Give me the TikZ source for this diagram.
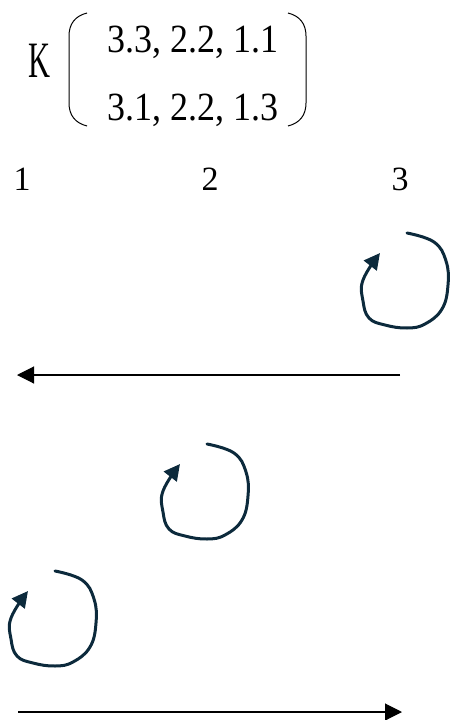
\documentclass[tikz,border=0pt]{standalone}
\usepackage{fontspec}
\setmainfont{Liberation Serif}
\usetikzlibrary{arrows.meta}
\definecolor{loopcol}{HTML}{0C2A3C}
\newcommand\fitw[2]{\setbox0\hbox{#2}\pgfmathsetmacro\fws{#1/\wd0}\scalebox{\fws}[1]{\box0}}
\begin{document}
\begin{tikzpicture}[x=1pt,y=-1pt,
  txt/.style={inner sep=0pt,outer sep=0pt,anchor=base west},
  num/.style={inner sep=0pt,outer sep=0pt,anchor=base,font=\fontsize{34}{34}\selectfont},
  paren/.style={line width=1pt,black},
  hline/.style={line width=1.1pt,black,-{Triangle[length=17pt 0 0,width=17pt 0 0]}},
  loopline/.style={line width=3pt,loopcol,line cap=round,line join=round,
     -{Triangle[length=16pt 0 0,width=16pt 0 0]}},
  rloop/.pic={
    \draw[loopline] plot[smooth,tension=0.7] coordinates {
      (0,0) (27,9) (39,28) (41,52) (35,76) (18,91) (0,95)
      (-22,92) (-38,85) (-44,68) (-44,47) (-27,20)};
  }]
\useasboundingbox (0,0) rectangle (450,720);
% matrix label
\node[txt] (K) at (28,77) {\fontsize{51}{51}\selectfont\fitw{22}{K}};
\node[txt] (r1) at (107,52) {\fontsize{40}{40}\selectfont\fitw{171}{3.3, 2.2, 1.1}};
\node[txt] (r2) at (107,120) {\fontsize{40}{40}\selectfont\fitw{171}{3.1, 2.2, 1.3}};
% parentheses
\draw[paren] (87,13) .. controls (75,16) and (69,24) .. (69,36) -- (69,103) .. controls (69,115) and (75,123) .. (87,126);
\draw[paren] (288,13) .. controls (300,16) and (306,24) .. (306,36) -- (306,103) .. controls (306,115) and (300,123) .. (288,126);
% state numbers
\node[num] (n1) at (22,190) {1};
\node[num] (n2) at (210,190) {2};
\node[num] (n3) at (400,190) {3};
% loops
\pic at (407,233) {rloop};
\pic at (207,444) {rloop};
\pic at (55,571) {rloop};
% horizontal arrows
\coordinate (a1s) at (400,375);
\coordinate (a1e) at (17,375);
\coordinate (a2s) at (18,712);
\coordinate (a2e) at (402,712);
\draw[hline] (a1s) -- (a1e);
\draw[hline] (a2s) -- (a2e);
\end{tikzpicture}
\end{document}
